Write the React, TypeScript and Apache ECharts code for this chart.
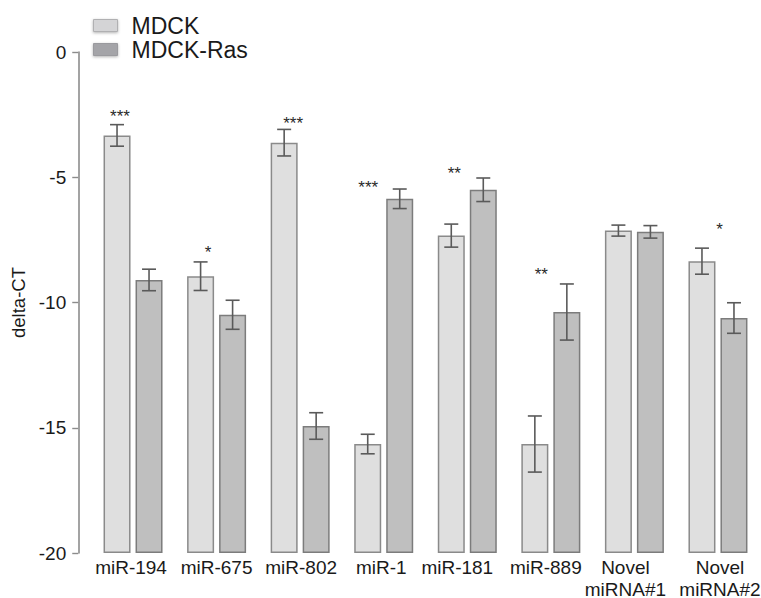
import React, { useEffect, useRef } from "react";
import * as echarts from "echarts";

// Expression levels (delta-CT) per miRNA, mean and standard error
const categories = [
  "miR-194",
  "miR-675",
  "miR-802",
  "miR-1",
  "miR-181",
  "miR-889",
  "Novel\nmiRNA#1",
  "Novel\nmiRNA#2",
];
const mdck = [-3.33, -8.95, -3.62, -15.65, -7.33, -15.65, -7.13, -8.35];
const mdckErr = [0.43, 0.57, 0.53, 0.39, 0.46, 1.12, 0.22, 0.52];
const mdckRas = [-9.1, -10.49, -14.93, -5.86, -5.5, -10.38, -7.18, -10.62];
const mdckRasErr = [0.43, 0.58, 0.53, 0.39, 0.47, 1.12, 0.25, 0.61];

// Significance markers and the delta-CT level they sit at
const sigMarks = ["***", "*", "***", "***", "**", "**", "", "*"];
const sigLevel = [-2.43, -7.86, -2.71, -5.23, -4.71, -8.74, 0, -6.94];

const yTicks = [-20, -15, -10, -5, 0];
const BASE = yTicks[0];

// horizontal nudges (px) of the markers and of the category labels
const sigNudge = [-13, -8.5, -7, -15.5, -13, -9.5, 0, 1.5];
const labelNudge = [-2, 0, 1, -2.5, -10, -5, -9, 2];

const BAR_W = 27;
const HALF_PITCH = 16;

const FONT = "'Liberation Sans', Arial, Helvetica, sans-serif";

export default function App() {
  const ref = useRef<HTMLDivElement>(null);

  useEffect(() => {
    if (!ref.current) return;
    const chart = echarts.init(ref.current, undefined, { renderer: "svg" });

    const shifted = (arr: number[]) => arr.map((v) => v - BASE);

    const errData = (vals: number[], errs: number[], side: number) =>
      vals.map((v, i) => [i, v - BASE, errs[i], side]);

    const renderErr = (params: any, api: any) => {
      const i = api.value(0);
      const v = api.value(1);
      const e = api.value(2);
      const side = api.value(3);
      const top = api.coord([i, v + e]);
      const bot = api.coord([i, v - e]);
      const x = top[0] + side * HALF_PITCH;
      const cap = 7;
      const style = { stroke: "#5a5a5a", lineWidth: 1.6 };
      return {
        type: "group",
        children: [
          { type: "line", shape: { x1: x, y1: top[1], x2: x, y2: bot[1] }, style },
          { type: "line", shape: { x1: x - cap, y1: top[1], x2: x + cap, y2: top[1] }, style },
          { type: "line", shape: { x1: x - cap, y1: bot[1], x2: x + cap, y2: bot[1] }, style },
        ],
      };
    };

    const sigData = sigMarks.map((m, i) => [i, sigLevel[i] - BASE, m]);

    // one rich style per category label, padded on one side to nudge it
    const rich: Record<string, any> = {};
    labelNudge.forEach((n, i) => {
      rich["c" + i] = {
        fontFamily: FONT,
        fontSize: 19,
        color: "#1a1a1a",
        lineHeight: 22,
        padding: n < 0 ? [0, -2 * n, 0, 0] : [0, 0, 0, 2 * n],
      };
    });

    chart.setOption({
      animation: false,
      backgroundColor: "#ffffff",
      grid: {
        left: 91.25,
        right: 1.25,
        top: 52,
        bottom: 45,
        containLabel: false,
        outerBoundsMode: "none",
      },
      legend: {
        orient: "vertical",
        left: 93,
        top: 14,
        itemWidth: 24,
        itemHeight: 12,
        itemGap: 1,
        padding: 0,
        icon: "rect",
        textStyle: {
          fontFamily: FONT,
          fontSize: 23,
          lineHeight: 23,
          color: "#1a1a1a",
          padding: [0, 0, 0, 9],
        },
        data: [
          {
            name: "MDCK",
            itemStyle: {
              color: "#d4d4d6",
              borderColor: "#b0b0b2",
              borderWidth: 1,
              shadowBlur: 3,
              shadowColor: "rgba(0,0,0,0.3)",
              shadowOffsetY: 1,
            },
          },
          {
            name: "MDCK-Ras",
            itemStyle: {
              color: "#a4a4a8",
              borderColor: "#9a9a9e",
              borderWidth: 1,
              shadowBlur: 3,
              shadowColor: "rgba(0,0,0,0.3)",
              shadowOffsetY: 1,
            },
          },
        ],
      },
      xAxis: {
        type: "category",
        data: categories,
        axisLine: { show: false },
        axisTick: { show: false },
        axisLabel: {
          fontFamily: FONT,
          fontSize: 19,
          color: "#1a1a1a",
          margin: 3,
          lineHeight: 22,
          interval: 0,
          formatter: (value: string, index: number) =>
            value
              .split("\n")
              .map((line) => `{c${index}|${line}}`)
              .join("\n"),
          rich,
        },
      },
      yAxis: {
        type: "value",
        min: 0,
        max: -BASE,
        interval: 5,
        offset: 13,
        name: "delta-CT",
        nameLocation: "middle",
        nameRotate: 90,
        nameGap: 46,
        nameTextStyle: { fontFamily: FONT, fontSize: 18.5, color: "#1a1a1a" },
        axisLine: { show: true, lineStyle: { color: "#8c8c8c", width: 1.6 } },
        axisTick: { show: true, length: 6, lineStyle: { color: "#8c8c8c", width: 1.4 } },
        splitLine: { show: false },
        axisLabel: {
          fontFamily: FONT,
          fontSize: 19,
          color: "#1a1a1a",
          margin: 12,
          formatter: (v: number) => String(v + BASE),
        },
      },
      series: [
        {
          name: "MDCK",
          type: "bar",
          data: shifted(mdck),
          barWidth: BAR_W,
          barGap: "18.5%",
          itemStyle: { color: "#dfdfdf", borderColor: "#8a8a8a", borderWidth: 1.5 },
        },
        {
          name: "MDCK-Ras",
          type: "bar",
          data: shifted(mdckRas),
          barWidth: BAR_W,
          itemStyle: { color: "#bfbfbf", borderColor: "#7c7c7c", borderWidth: 1.5 },
        },
        {
          type: "custom",
          data: errData(mdck, mdckErr, -1),
          renderItem: renderErr,
          z: 5,
        },
        {
          type: "custom",
          data: errData(mdckRas, mdckRasErr, 1),
          renderItem: renderErr,
          z: 5,
        },
        {
          type: "custom",
          data: sigData,
          z: 6,
          renderItem: (params: any, api: any) => {
            const i = api.value(0);
            const mark = sigMarks[i];
            if (!mark) return null;
            const p = api.coord([i, api.value(1)]);
            return {
              type: "text",
              x: p[0] + sigNudge[i],
              y: p[1] + 4,
              style: {
                text: mark,
                fontFamily: FONT,
                fontSize: 17,
                fill: "#2a2a2a",
                textAlign: "center",
                textVerticalAlign: "middle",
              },
            };
          },
        },
      ],
    });

    return () => chart.dispose();
  }, []);

  return (
    <div
      ref={ref}
      style={{ position: "absolute", left: 0, top: 0, width: 761, height: 598 }}
    />
  );
}
